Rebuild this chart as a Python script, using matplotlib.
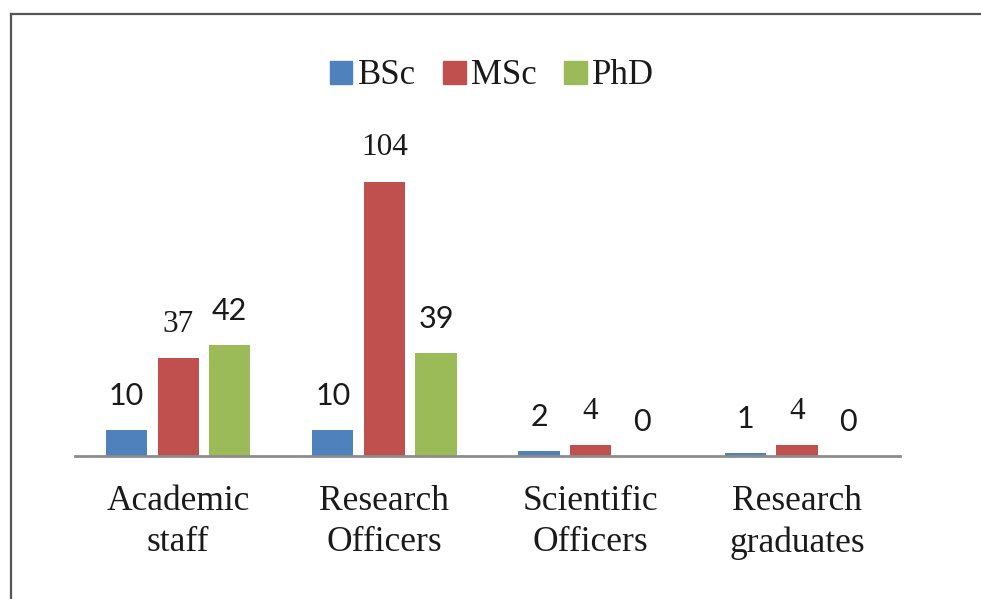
import numpy as np
from matplotlib import pyplot as plt
from matplotlib.lines import Line2D
from matplotlib.patches import Patch

categories = ['Academic\nstaff', 'Research\nOfficers', 'Scientific\nOfficers', 'Research\ngraduates']
series = ['BSc', 'MSc', 'PhD']
bsc = [10, 10, 2, 1]
msc = [37, 104, 4, 4]
phd = [42, 39, 0, 0]

colors = ['#4F81BD', '#C0504D', '#9BBB59']
# the value labels in the source mix two fonts: MSc ones are serif
label_serif = [False, True, False]
SERIF = 'Liberation Serif'
SANS = 'Lato'

W, H = 981, 599
fig = plt.figure(figsize=(W / 100, H / 100), dpi=100)
ax = fig.add_axes([75 / W, (H - 456) / H, (900 - 75) / W, (456 - 120) / H])

x = np.arange(len(categories))
width = 0.2
offsets = [-0.25, 0.0, 0.25]
for vals, off, col, serif in zip([bsc, msc, phd], offsets, colors, label_serif):
    bars = ax.bar(x + off, vals, width, color=col, zorder=2)
    for b, v in zip(bars, vals):
        ax.annotate(str(v), (b.get_x() + b.get_width() / 2, v),
                    xytext=(0, 24.5), textcoords='offset points',
                    ha='center', va='center',
                    fontsize=22.5 if serif else 22,
                    family=SERIF if serif else SANS, color='#1a1a1a')

ax.set_xlim(-0.5, len(categories) - 0.5)
ax.set_ylim(0, 127.5)
ax.set_xticks(x)
ax.set_xticklabels(categories, fontsize=25.5, family=SERIF, color='#1a1a1a',
                   linespacing=1.32)
ax.tick_params(axis='x', length=0, pad=21)
ax.set_yticks([])
for s in ['top', 'right', 'left']:
    ax.spines[s].set_visible(False)
ax.spines['bottom'].set_color('#8c8c8c')
ax.spines['bottom'].set_linewidth(2)

handles = [Patch(color=c, label=s) for c, s in zip(colors, series)]
fig.legend(handles=handles, loc='center', bbox_to_anchor=(492 / W, (H - 76) / H),
           ncol=3, frameon=False, prop={'family': SERIF, 'size': 25},
           handlelength=0.64, handleheight=0.64, handletextpad=0.15,
           columnspacing=0.8, labelcolor='#1a1a1a')

# outer frame (top and left edges only are visible)
fig.add_artist(Line2D([11 / W, 1.0], [(H - 14) / H, (H - 14) / H],
                      transform=fig.transFigure, color='#555555', lw=1.6))
fig.add_artist(Line2D([11 / W, 11 / W], [0, (H - 14) / H],
                      transform=fig.transFigure, color='#555555', lw=1.6))

plt.savefig('out.png', dpi=100)
